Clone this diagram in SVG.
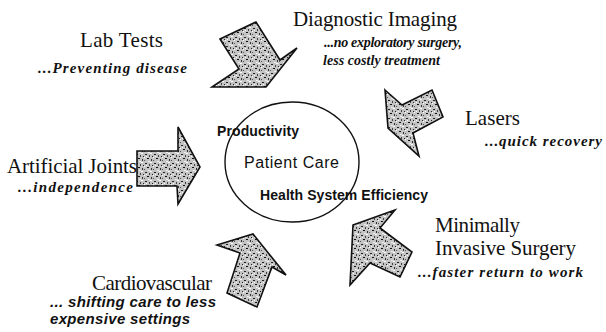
<svg xmlns="http://www.w3.org/2000/svg" width="606" height="332" viewBox="0 0 606 332">
<style>
.title{font-family:"Liberation Serif","Times New Roman",serif;font-size:21px;fill:#111}
.sub{font-family:"Liberation Serif","Times New Roman",serif;font-size:15px;font-weight:bold;font-style:italic;fill:#111}
.subm{font-family:"Liberation Serif","Times New Roman",serif;font-size:14px;font-weight:bold;font-style:italic;fill:#111}
.subs{font-family:"Liberation Sans",Arial,sans-serif;font-size:15px;font-weight:bold;font-style:italic;fill:#111}
.hub{font-family:"Liberation Sans",Arial,sans-serif;font-size:14px;font-weight:bold;fill:#111}
.hubc{font-family:"Liberation Sans",Arial,sans-serif;font-size:16px;fill:#111}
.arrow{fill:url(#stip);stroke:#111;stroke-width:1.6;stroke-linejoin:miter}
.ring{fill:none;stroke:#111;stroke-width:1.4}
</style>
<defs>
<pattern id="stip" patternUnits="userSpaceOnUse" width="9" height="9">
<rect width="9" height="9" fill="#c4c4c4"/>
<rect x="1" y="1" width="2" height="1" fill="#222"/>
<rect x="5" y="2" width="1" height="2" fill="#444"/>
<rect x="3" y="5" width="2" height="1" fill="#111"/>
<rect x="7" y="6" width="1" height="2" fill="#333"/>
<rect x="0" y="7" width="1" height="1" fill="#555"/>
<rect x="8" y="3" width="1" height="1" fill="#222"/>
<rect x="6" y="0" width="2" height="1" fill="#fff"/>
<rect x="2" y="3" width="1" height="1" fill="#fff"/>
<rect x="4" y="8" width="2" height="1" fill="#eee"/>
<rect x="0" y="4" width="1" height="1" fill="#fff"/>
</pattern>
</defs>

<g id="connectors">
<polygon id="arrow-imaging" class="arrow" points="220,39 256,22 280,60 297,48 266,87 212,87 239,69"/>
<polygon id="arrow-lasers" class="arrow" points="385,90 402,105 432,90 443,117 413,133 419,156 388,128"/>
<polygon id="arrow-joints" class="arrow" points="137,151 178,151 178,127 200,167 178,204 177,186 137,186"/>
<polygon id="arrow-cardio" class="arrow" points="217,245 253,234 286,275 272,267 257,307 227,293 240,253"/>
<polygon id="arrow-mis" class="arrow" points="353,225 395,210 380,228 412,252 400,277 370,263 350,285"/>
</g>

<g id="hub">
<ellipse class="ring" cx="292" cy="162" rx="67" ry="60"/>
<text class="hub" x="217" y="136" textLength="82">Productivity</text>
<text class="hubc" x="244" y="168" textLength="95">Patient Care</text>
<text class="hub" x="260" y="200" textLength="168">Health System Efficiency</text>
</g>

<g id="lab-tests">
<text class="title" x="80" y="47" textLength="83">Lab Tests</text>
<text class="sub" x="38" y="73" textLength="149">...Preventing disease</text>
</g>

<g id="diagnostic-imaging">
<text class="title" x="293" y="26" textLength="164">Diagnostic Imaging</text>
<text class="subm" x="324" y="47" textLength="138">...no exploratory surgery,</text>
<text class="subm" x="323" y="65" textLength="117">less costly treatment</text>
</g>

<g id="lasers">
<text class="title" x="465" y="125" textLength="55">Lasers</text>
<text class="sub" x="485" y="146" textLength="117">...quick recovery</text>
</g>

<g id="artificial-joints">
<text class="title" x="7" y="173" textLength="130">Artificial Joints</text>
<text class="sub" x="18" y="192" textLength="115">...independence</text>
</g>

<g id="minimally-invasive">
<text class="title" x="435" y="232" textLength="85">Minimally</text>
<text class="title" x="435" y="255" textLength="141">Invasive Surgery</text>
<text class="sub" x="418" y="277" textLength="165">...faster return to work</text>
</g>

<g id="cardiovascular">
<text class="title" x="92" y="290" textLength="120">Cardiovascular</text>
<text class="subs" x="50" y="307" textLength="166">... shifting care to less</text>
<text class="subs" x="50" y="324" textLength="140">expensive settings</text>
</g>
</svg>
